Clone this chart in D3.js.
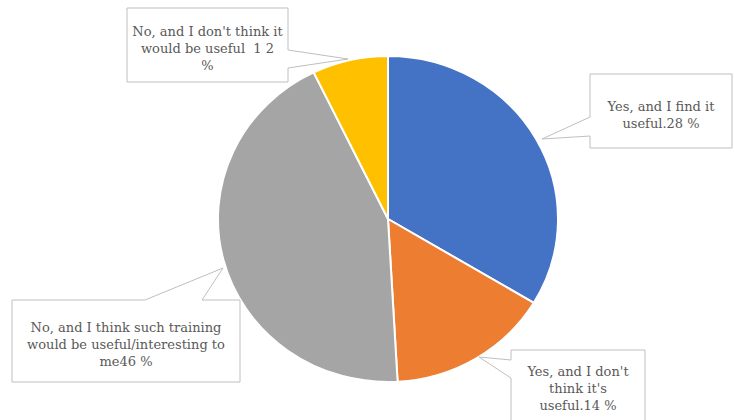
<!DOCTYPE html>
<html>
<head>
<meta charset="utf-8">
<script src="https://cdn.jsdelivr.net/npm/d3@7"></script>
<style>
  body { margin: 0; background: #fff; }
  svg { display: block; }
</style>
</head>
<body>
<div id="chart-area"></div>
<script>
// answers, clockwise from 12 o'clock
let categories = ["Yes, and I find it useful", "Yes, and I don't think it's useful",
	"No, and I think such training would be useful/interesting to me", "No, and I don't think it would be useful"];
let shares = [33.6, 15.5, 43.7, 7.2];   // slice sizes as drawn
let labelLines = [
	["Yes, and I find it", "useful.28 %"],
	["Yes, and I don't", "think it's", "useful.14 %"],
	["No, and I think such training", "would be useful/interesting to", "me46 %"],
	["No, and I don't think it", "would be useful  1 2", "%"]
];
let colors = ["#4472C4", "#ED7D31", "#A5A5A5", "#FFC000"];

let width = 734, height = 420;
let cx = 388, cy = 219, r = 163, stretch = 1.043;

let svg = d3.select("#chart-area").append("svg")
	.attr("width", width)
	.attr("height", height);

let pie = d3.pie().sort(null).value((d) => d);
let arc = d3.arc().innerRadius(0).outerRadius(r);

let group = svg.append("g")
	.attr("transform", "translate(" + cx + "," + cy + ") scale(" + stretch + ",1)");

group.selectAll("path")
	.data(pie(shares))
	.enter()
	.append("path")
	.attr("d", arc)
	.attr("fill", (d, i) => colors[i])
	.attr("stroke", "#fff")
	.attr("stroke-width", 2)
	.attr("vector-effect", "non-scaling-stroke");

// callout boxes (layout only)
let boxes = [
	{ x: 590, y: 74, w: 142, h: 74, side: "left", a: 117, b: 136, tip: [542, 139] },
	{ x: 511, y: 350, w: 134, h: 80, side: "left", a: 360, b: 378, tip: [479, 357] },
	{ x: 12, y: 300, w: 228, h: 82, side: "top", a: 145, b: 202, tip: [223, 268] },
	{ x: 127, y: 8, w: 161, h: 74, side: "right", a: 50, b: 68, tip: [348, 59] }
];

function calloutPath(c) {
	let x0 = c.x, y0 = c.y, x1 = c.x + c.w, y1 = c.y + c.h, t = c.tip;
	let p = d3.path();
	p.moveTo(x0, y0);
	if (c.side === "top") { p.lineTo(c.a, y0); p.lineTo(t[0], t[1]); p.lineTo(c.b, y0); }
	p.lineTo(x1, y0);
	if (c.side === "right") { p.lineTo(x1, c.a); p.lineTo(t[0], t[1]); p.lineTo(x1, c.b); }
	p.lineTo(x1, y1);
	p.lineTo(x0, y1);
	if (c.side === "left") { p.lineTo(x0, c.b); p.lineTo(t[0], t[1]); p.lineTo(x0, c.a); }
	p.closePath();
	return p.toString();
}

let lineH = 17;
let callouts = svg.selectAll("g.callout")
	.data(boxes)
	.enter()
	.append("g")
	.attr("class", "callout");

callouts.append("path")
	.attr("d", calloutPath)
	.attr("fill", "#fff")
	.attr("stroke", "#BFBFBF")
	.attr("stroke-width", 1);

callouts.each(function (c, i) {
	let lines = labelLines[i];
	let midY = (i === 1) ? 388 : c.y + c.h / 2 + 3.5;
	let t = d3.select(this).append("text")
		.attr("x", c.x + c.w / 2)
		.attr("text-anchor", "middle")
		.attr("font-family", "'DejaVu Serif', serif")
		.attr("font-size", "13px")
		.attr("fill", "#595959")
		.style("white-space", "pre");
	lines.forEach((s, k) => {
		t.append("tspan")
			.attr("x", c.x + c.w / 2)
			.attr("y", midY + (k - (lines.length - 1) / 2) * lineH + 4.5)
			.text(s);
	});
});
</script>
</body>
</html>
